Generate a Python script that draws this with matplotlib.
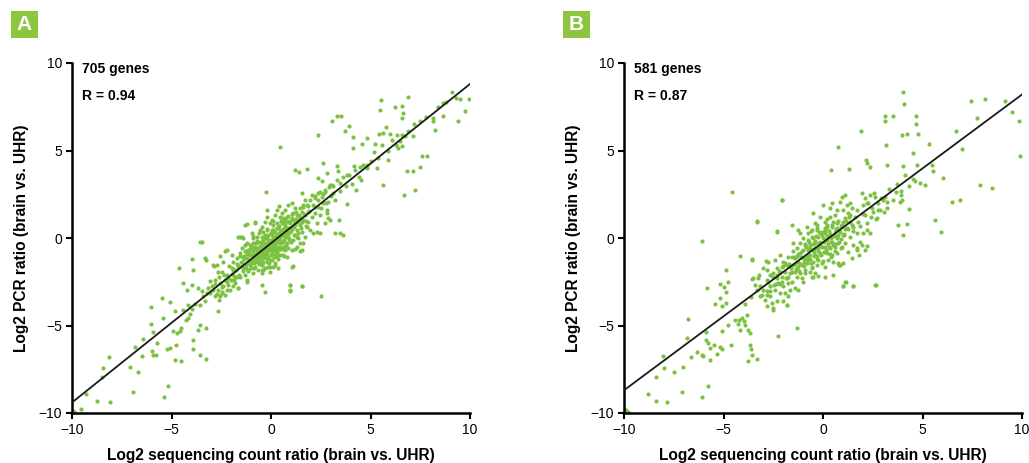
import matplotlib
matplotlib.use("Agg")
import matplotlib.pyplot as plt
from matplotlib.patches import Rectangle

plt.rcParams['font.family'] = ['Liberation Sans', 'DejaVu Sans']

# ---------------- data ----------------
a_x = [9.08, 9.50, 9.95, 8.66, 9.75, 9.42, 8.66, 8.16, 8.16, 8.24, 6.90, 5.53, 6.23, 6.60, 6.65, 6.57,
       5.48, 5.78, 3.33, 3.50, 3.08, 3.92, 3.72, 2.38, 4.10, 4.14, 4.59, 4.84, 5.23, 5.43, 5.61, 5.98,
       6.32, 6.48, 6.40, 6.57, 6.73, 7.15, 7.60, 7.82, 7.15, 6.82, 7.48, 7.23, 6.68, 5.65, 5.90, 5.31,
       4.81, 4.47, 4.17, 4.51, 4.29, 3.80, 3.64, 3.22, 3.43, 2.96, 2.80, 2.60, 2.38, 3.30, 3.38, 2.80,
       0.45, 1.21, 1.79, 1.41, 2.55, 3.05, 3.80, 3.47,
       -9.90, -9.55, -8.76, -8.09, -9.31, -8.51, -8.46, -8.14, -6.92, -7.09, -6.67, -6.50, -6.82, -6.42,
       -5.95, -6.03, -5.99, -5.95, -5.75, -5.80, -5.39, -5.19, -5.24, -5.08, -4.79, -4.84, -4.54, -4.74,
       -4.91, -4.52, -4.57, -3.90, -3.90, -3.65, -3.57, -3.27, -3.57, -3.27, -5.41, -5.08, -5.46, -6.03,
       -4.82, -4.44, -4.29, -4.15, -4.07, -3.99, -4.61, -4.44, -3.99, -3.57, -3.28, -3.90, -3.99, -3.65,
       -3.48, -4.24, -4.15, -3.82, -3.57, -3.32, -3.23, -2.65, -2.60, -2.90, -2.56, -2.48, -3.07, -2.85,
       -2.56, -2.23, -1.64, -1.22, -0.80, -1.47, -0.27, -0.22, 0.42,
       -0.30, -0.47, -1.22, -1.64, 0.95, 0.95, 1.54, 2.50, 1.12, 0.20, 1.54, 2.29, 3.47,
       -3.49, -3.32, -3.15, -3.40, -3.07, -2.90, -2.73, -2.65, -2.82, -2.98, -2.65, -2.57, -2.82,
       -2.31, -2.40, -2.48, -2.23, -2.31, -2.15, -2.40, -2.15, -2.23, -2.06, -2.48, -2.31,
       -1.98, -1.89, -1.73, -1.98, -1.81, -1.64, -1.89, -1.73, -1.98, -1.81, -1.64, -1.89, -1.56,
       -1.31, -1.39, -1.23, -1.48, -1.31, -1.14, -1.39, -1.23, -1.06, -1.48, -1.23, -1.39, -1.14, -1.31,
       -1.23, -1.06, -1.56, -1.06,
       -0.97, -0.81, -0.89, -0.72, -0.64, -0.89, -0.97, -0.81, -0.64, -0.89, -0.72, -0.56, -0.97, -0.81,
       -0.64, -0.89, -0.72, -0.97, -0.56, -0.81, -0.64, -0.89, -0.72, -0.56, -0.47,
       -0.47, -0.30, -0.39, -0.22, -0.14, -0.47, -0.30, -0.14, -0.39, -0.22, -0.47, -0.30, -0.14, -0.39,
       -0.22, -0.05, -0.47, -0.30, -0.14, -0.39, -0.22, -0.05, -0.47, -0.30, -0.14, -0.39, -0.22, -0.05,
       -0.05,
       0.03, 0.20, 0.11, 0.28, 0.03, 0.20, 0.37, 0.11, 0.28, 0.45, 0.03, 0.20, 0.37, 0.11, 0.28, 0.45,
       0.03, 0.20, 0.37, 0.11, 0.28, 0.03, 0.45, 0.20, 0.37, 0.28, 0.45, 0.11,
       0.53, 0.70, 0.62, 0.78, 0.53, 0.70, 0.87, 0.62, 0.78, 0.95, 0.53, 0.70, 0.87, 0.62, 0.78, 0.95,
       0.53, 0.70, 0.87, 0.62, 0.78, 1.04, 0.87,
       1.04, 1.20, 1.12, 1.29, 1.04, 1.37, 1.20, 1.45, 1.12, 1.29, 1.45, 1.20, 1.37, 1.12, 1.45, 1.29,
       1.45, 1.04, 0.95, 0.95, 1.54,
       1.54, 1.71, 1.62, 1.79, 1.54, 1.87, 1.71, 1.62, 1.87, 1.79, 1.54, 1.71, 1.96, 1.62,
       2.04, 2.21, 2.38, 2.54, 2.71, 2.12, 2.38, 2.63, 2.88, 2.21, 2.46, 2.80, 2.29, 2.71, 2.12, 2.88,
       2.46,
       -1.45, -1.35, -1.25, -1.20, -1.10, -1.05, -1.00, -0.95, -0.90, -0.85, -0.80, -0.75, -0.70, -0.65,
       -0.60, -0.55, -0.50, -0.45, -0.42, -0.38, -0.35, -0.30, -0.27, -0.25, -0.20, -0.18, -0.15, -0.10,
       -0.08, -0.05, 0.00, 0.02, 0.05, 0.08, 0.10, 0.13, 0.15, 0.18, 0.22, 0.25, 0.28, 0.30, 0.33, 0.36,
       0.40, 0.42, 0.45, 0.48, 0.50, 0.55, 0.58, 0.60, 0.65, 0.68, 0.72, 0.75, 0.78, 0.82, 0.85, 0.90,
       0.95, 1.00, 1.05, 1.10, 1.15, 1.20, 1.25, 1.30, 1.35, 1.40, 1.50, -1.55, -1.60, -1.70, -1.80,
       -1.90, -2.00, -2.10, -2.20, -2.35, -2.45, -2.60, -2.70, -2.80, -1.30, -0.90, -0.60, -0.20, 0.10,
       -0.45, -0.05, 0.35, 0.65, 1.20, 1.60, 1.75, 1.90, 2.05, 2.20, 2.35, 2.50, 2.60, 2.75, 2.90, 3.00,
       3.10, 3.20, 3.30, 3.45, 3.60, 3.75, 3.90, 4.05, 4.20, 4.40, 4.60, 4.80, 5.00, 5.20, 5.40, 5.60,
       5.90, 6.10, 6.30, 6.60, 6.90, 7.20, 7.50, 7.80, 8.40, 8.80, 9.30, -9.92, -9.96,
       1.96, 2.21, 2.46, 2.71, 2.96, 3.13]
a_y = [8.32, 7.96, 7.96, 7.71, 7.24, 6.70, 6.95, 6.86, 6.67, 6.15, 8.06, 7.87, 7.49, 7.52, 7.14, 6.86,
       7.30, 6.32, 7.00, 7.00, 6.67, 6.38, 6.10, 5.90, 5.75, 5.14, 5.39, 5.71, 5.39, 5.96, 6.00, 5.96,
       5.90, 5.52, 5.14, 5.24, 5.81, 5.81, 4.67, 4.67, 3.85, 3.85, 4.04, 2.72, 2.48, 3.01, 4.44, 4.00,
       4.19, 4.06, 4.10, 3.33, 2.76, 1.96, 0.19, 0.29, 1.05, 1.05, 1.43, 4.29, 3.43, 4.10, 3.81, 3.71,
       5.20, 3.90, 3.96, 3.77, 3.24, 3.01, 3.58, 3.14,
       -9.94, -9.77, -9.30, -9.39, -8.91, -7.96, -7.43, -6.80, -8.82, -7.39, -7.68, -6.76, -6.25, -5.75,
       -5.37, -4.90, -6.48, -6.67, -6.00, -6.67, -9.09, -8.48, -6.34, -6.29, -6.13, -6.95, -7.05, -5.43,
       -5.33, -5.14, -5.30, -5.81, -6.34, -5.24, -4.95, -5.14, -6.67, -6.90, -4.57, -3.68, -3.43, -3.94,
       -4.19, -4.10, -4.67, -4.57, -4.34, -4.06, -1.71, -2.57, -1.18, -0.25, -1.24, -1.81, -2.67, -2.86,
       -3.05, -2.95, -3.81, -3.75, -3.81, -3.62, -3.14, -4.19, -3.52, -2.95, -3.33, -3.14, -2.48, -1.62,
       -1.01, -0.67, 0.06, 0.82, 0.90, 0.06, 2.63, 1.58, 1.81,
       -3.10, -2.67, -2.53, -2.86, -2.67, -3.01, -2.76, -3.33, -1.62, -1.52, -0.67, 0.34, 0.29,
       -0.21, -1.16, -2.87, -3.34, -3.15, -1.54, -1.54, -1.92, -2.39, -2.77, -2.96, -2.58, -3.34,
       -0.77, -1.35, -1.92, -2.11, -2.39, -2.30, -2.77, -2.68, -2.96, -2.96, -3.06, -3.25,
       -0.97, -1.35, -1.16, -1.73, -1.82, -1.54, -2.11, -2.20, -2.39, -2.58, -2.87, -2.77, 0.08,
       0.74, -0.02, -0.30, -0.59, -0.77, -0.68, -1.06, -1.16, -0.97, -1.35, -1.44, -1.73, -1.82, -2.11,
       -2.39, -1.54, -0.87, -0.40,
       0.27, 0.84, -0.02, 0.08, -0.21, -0.30, -0.59, -0.49, -0.59, -0.77, -0.87, -0.77, -0.97, -1.06,
       -1.06, -1.25, -1.35, -1.44, -1.25, -1.63, -1.82, -2.01, -0.21, 0.46, -2.01,
       0.65, 0.94, 0.36, 0.46, 0.17, 0.08, -0.02, -0.11, -0.21, -0.30, -0.40, -0.49, -0.49, -0.68,
       -0.77, -0.68, -0.87, -0.97, -1.06, -1.16, -1.35, -1.25, -1.54, -1.73, -1.63, -1.82, 1.22, 0.84,
       -1.92,
       1.03, 1.32, 0.74, 0.84, 0.46, 0.36, 0.55, 0.08, 0.08, 0.17, -0.11, -0.21, -0.11, -0.40, -0.49, -0.30,
       -0.59, -0.77, -0.68, -0.97, -1.06, -1.25, -0.97, -1.44, -1.73, 1.60, 1.22, -1.63,
       1.41, 1.60, 1.13, 1.22, 0.84, 0.74, 0.94, 0.46, 0.36, 0.55, 0.17, 0.08, 0.08, -0.21, -0.30, -0.11,
       -0.49, -0.68, -0.59, -0.97, -1.06, -0.68, 1.89,
       1.98, 1.70, 1.41, 1.32, 1.13, 1.03, 0.84, 1.22, 0.65, 0.46, 0.74, 0.17, -0.02, -0.11, -0.30, -0.49,
       -0.77, -1.63, -2.68, -2.96, -2.77,
       2.55, 2.17, 1.79, 1.89, 1.51, 1.51, 1.32, 1.03, 0.94, 0.65, 0.36, 0.08, 0.46, -0.30,
       2.46, 2.27, 2.55, 2.36, 2.64, 1.89, 1.79, 1.98, 2.08, 1.41, 1.32, 1.60, 0.84, 0.84, 0.27, 1.13,
       0.27,
       -1.60, -1.20, -1.70, -0.90, -1.30, -0.60, -1.70, -1.20, -0.50, -1.45, -0.90, -0.30, -1.10, -0.75,
       -1.50, -0.45, -1.05, -0.65, -0.10, -1.35, -0.85, -0.35, -1.15, -0.60, 0.05, -0.90, -0.40, -1.40,
       -0.70, -0.20, -0.95, -0.45, 0.20, -0.70, -0.15, -1.10, 0.35, -0.55, 0.00, -0.30, 0.55, -0.85, -0.10, 0.25,
       -0.50, 0.70, 0.00, -0.25, 0.45, -0.65, 0.15, 0.85, -0.10, 0.40, 1.00, -0.40, 0.60, 0.10, 1.25, 0.30,
       0.85, -0.25, 0.50, 1.05, 0.20, 0.75, 1.50, 0.05, 0.90, 1.30, 0.55, -1.05, -2.10, -1.50, -2.20,
       -1.80, -2.40, -1.60, -2.50, -2.10, -2.80, -2.20, -3.20, -2.60, -0.40, 0.10, 0.30, 0.50, 0.95,
       -1.80, -1.65, -1.20, -1.00, -0.60, 1.90, 1.00, 1.55, 1.20, 1.80, 2.20, 1.70, 2.50, 2.00, 2.90, 2.40,
       3.00, 2.20, 3.30, 2.70, 3.50, 3.00, 3.60, 3.10, 3.90, 3.50, 4.20, 4.00, 4.40, 4.90, 4.60, 5.30,
       5.00, 5.60, 5.30, 5.90, 6.10, 6.50, 6.70, 6.90, 7.50, 7.80, 8.00, -9.97, -9.90,
       2.19, 2.38, 2.61, 2.76, 3.05, 2.57]

a_core_x = [-1.95, -1.85, -1.75, -1.65, -1.58, -1.52, -1.42, -1.38, -1.28, -1.18, -1.12, -1.02, -0.98,
            -0.92, -0.87, -0.78, -0.73, -0.68, -0.62, -0.57, -0.52, -0.48, -0.43, -0.37, -0.33, -0.28,
            -0.23, -0.17, -0.12, -0.07, -0.02, 0.04, 0.07, 0.12, 0.17, 0.23, 0.27, 0.32, 0.38, 0.43,
            0.47, 0.52, 0.57, 0.63, 0.67, 0.73, 0.77, 0.83, 0.88, 0.93, 0.98, 1.08, 1.18, 1.28, 1.38,
            1.48, 1.58, 1.68, 1.78, 1.88]
a_core_y = [-2.05, -2.40, -1.85, -1.60, -2.20, -1.35, -1.90, -1.05, -1.55, -1.90, -0.80, -1.30, -0.45,
            -0.95, -1.70, -0.60, -1.25, -0.15, -0.90, -1.30, -0.20, -0.75, -1.55, -0.40, -0.95, 0.15,
            -0.65, -1.20, -0.10, -0.55, 0.30, -0.85, -0.30, 0.45, -0.40, 0.10, -0.95, 0.60, 0.20, -0.60,
            0.35, 1.00, -0.20, 0.55, -0.50, 0.25, 1.15, 0.60, -0.05, 0.95, 0.40, 1.35, 0.65, 1.10, 0.30,
            1.70, 0.90, 1.40, 0.70, 1.85]

b_x = [4.00, 4.07, 7.42, 8.14, 9.15, 9.48, 9.85, 9.90, 7.76, 6.67, 7.00, 7.89, 8.51, 6.47, 6.88, 6.05,
       5.49, 5.54, 5.34, 4.54, 4.67, 4.67, 4.76, 4.20, 3.99, 3.53, 3.12, 3.12, 3.17, 3.20, 1.89, 0.74,
       0.40, 1.32, 2.14, 2.19, 2.36, 4.04, 4.62, 4.87, 5.13, 3.65, 3.94, 3.99, 3.89, 4.34, 4.20, 3.75,
       4.00, 5.63, 5.91, 3.20, 2.66, 2.23, 2.19, 1.69, 1.83, 1.52, 0.99, 1.15, 2.66, 0.52, 0.10, -0.23,
       0.82, 0.90,
       -9.90, -8.81, -8.39, -7.86, -8.39, -8.02, -7.97, -7.49, -7.10, -7.02, -6.80, -6.82, -6.65, -6.35,
       -6.10, -6.10, -6.01, -6.10, -5.76, -5.85, -5.88, -5.88, -5.76, -5.68, -5.68, -5.46, -5.34, -5.18,
       -5.09, -5.43, -5.18, -5.09, -4.87, -5.18, -4.96, -4.87, -4.76, -4.87, -5.06, -4.76, -4.59, -4.62,
       -4.42, -4.25, -4.17, -4.20, -4.09, -3.97, -3.92, -3.84, -3.75, -3.67, -3.67, -3.62, -3.58, -3.79,
       -3.30, -4.17, -3.33, -3.58, -3.92, -3.64, -3.58, -3.22, -2.86, -2.33, -2.08, -2.24, -1.32, -1.83,
       -2.50, -2.83,
       -2.08, -3.33, -2.33, -3.59,
       -3.50, -3.25, -3.42, -3.17, -3.33, -3.00, -3.08, -2.83, -2.92, -2.67, -2.83, -3.00, -2.75, -2.83,
       -2.67, -2.75, -2.67, -3.17,
       -2.41, -2.16, -2.00, -2.33, -2.08, -1.83, -2.50, -2.16, -1.91, -2.33, -2.08, -1.83, -2.25, -2.00,
       -1.74, -2.41, -2.16, -1.91, -1.66, -2.33, -2.00, -1.74, -1.83, -2.58, -2.50, -1.66, -1.74, -1.58,
       -1.49, -1.32, -1.16, -1.58, -1.41, -1.24, -0.99, -1.49, -1.24, -1.07, -1.41, -1.16, -0.91, -1.32,
       -1.07, -1.58, -0.99, -1.24, -1.41, -1.16, -0.99, -0.91, -0.82, -1.16, -1.49, -1.24,
       -0.74, -0.57, -0.40, -0.74, -0.49, -0.24, -0.66, -0.40, -0.15, -0.74, -0.49, -0.24, -0.66, -0.40,
       -0.15, -0.74, -0.49, -0.24, -0.57, -0.32, -0.07, -0.66, -0.40, -0.57, -0.32, -0.07, -0.49, -0.15,
       -0.32,
       0.10, 0.35, 0.60, 0.18, 0.43, 0.69, 0.10, 0.35, 0.60, 0.18, 0.43, 0.69, 0.10, 0.35, 0.60, 0.77,
       0.18, 0.43, 0.69, 0.27, 0.52, 0.77, 0.10, 0.35, 0.02, 0.43, 0.69,
       0.94, 1.10, 0.85, 1.19, 1.02, 1.27, 1.44, 1.10, 1.36, 1.61, 0.94, 1.19, 1.52, 1.77, 1.02, 1.36,
       1.69, 1.10, 1.52, 1.86, 1.27, 1.69, 1.02, 1.44, 0.85, 1.10, 1.52, 1.02, 1.36,
       1.94, 2.11, 2.36, 2.61, 2.03, 2.28, 2.44, 2.78, 3.03, 2.11, 2.53, 2.86, 3.20, 2.19, 2.69, 2.03,
       1.94, 2.36, 2.11, 2.61, 3.11,
       -1.40, -1.30, -1.20, -1.10, -1.00, -0.95, -0.90, -0.85, -0.80, -0.75, -0.70, -0.65, -0.60, -0.55,
       -0.50, -0.45, -0.40, -0.35, -0.30, -0.25, -0.20, -0.15, -0.10, -0.05, 0.00, 0.05, 0.10, 0.15,
       0.20, 0.25, 0.30, 0.35, 0.40, 0.45, 0.50, 0.55, 0.60, 0.65, 0.70, 0.75, 0.80, 0.85, 0.90, 0.95,
       1.00, 1.05, 1.10, -1.60, -1.75, -1.90, -2.05, -2.20, -2.35, -2.50, -2.65, -2.80, -0.60, -0.30,
       0.20, -0.90, -0.50, 0.00, 0.40, 1.30, 1.50, 1.70, 1.85, 2.00, 2.20, 2.40, 2.55, 2.75, 2.90, 3.05,
       3.30, 3.50, 3.70, 3.90, 4.10, 4.30, 4.50, 4.70, -9.80, -9.95]
b_y = [8.32, 7.68, 7.81, 7.94, 7.81, 7.22, 6.67, 4.67, 6.86, 6.13, 5.09, 3.01, 2.84, 2.06, 2.15, 3.43,
       4.19, 3.85, 5.39, 4.86, 6.99, 6.51, 5.96, 5.96, 5.87, 6.99, 6.95, 6.67, 5.33, 4.19, 6.10, 5.18,
       3.90, 3.96, 4.48, 4.29, 4.04, 4.13, 3.28, 3.14, 3.05, 2.61, 2.48, 2.19, 2.04, 1.68, 0.82, 0.76,
       0.19, 1.05, 0.34, 2.06, 1.09, 0.48, -0.48, -0.57, -0.95, -2.76, -2.76, -2.53, -2.67, -2.10, -2.23, -2.15,
       -1.52, -0.57,
       -9.85, -8.91, -9.30, -9.39, -7.96, -6.76, -7.43, -7.68, -8.82, -7.37, -4.63, -5.71, -6.80, -6.51,
       -0.19, -6.67, -6.72, -9.09, -8.48, -2.86, -5.39, -5.81, -6.00, -6.29, -6.95, -6.10, -6.61, -6.25,
       -6.34, -3.77, -3.43, -3.90, -1.81, -2.61, -2.80, -3.10, -2.53, -3.71, -5.33, -4.95, 2.61, -6.13,
       -4.67, -4.90, -5.24, -4.67, -4.57, -4.76, -4.95, -4.38, -5.24, -5.43, -6.10, -6.34, -6.67, -7.05,
       -6.90, -1.01, 0.99, -1.20, -3.77, -3.39, -2.34, -2.10, -1.30, 0.38, 2.15, -5.62, -5.14, -3.81,
       -4.10, -3.05,
       2.17, 0.94, 0.33, -1.25,
       -2.30, -2.30, -2.68, -2.77, -2.96, -2.96, -3.25, -3.25, -3.53, -3.34, -3.91, -1.73, -1.35, -1.82,
       -2.11, -2.49, -2.77, -3.34,
       -1.25, -0.97, -1.35, -1.73, -1.63, -1.54, -2.01, -1.92, -1.92, -2.30, -2.20, -2.30, -2.58, -2.77,
       -2.58, -2.96, -3.15, -3.15, -2.96, -3.62, -3.62, -3.34, -3.82, -3.72, -4.00, -2.01, -1.06, 0.74,
       -0.77, -0.59, -0.87, -1.06, -1.16, -1.35, -1.16, -1.54, -1.63, -1.54, -1.92, -2.01, -1.82, -2.20,
       -2.30, -2.49, -2.49, -2.96, -2.87, 0.27, -0.02, -0.40, 0.65, -0.30, -0.30, 0.46,
       0.27, 0.46, 0.84, -0.11, -0.02, 0.08, -0.40, -0.30, -0.21, -0.68, -0.68, -0.59, -0.97, -0.97,
       -0.87, -1.25, -1.35, -1.25, -1.63, -1.54, -1.44, -1.92, -2.01, -2.20, 0.46, 0.36, 1.41, 1.22,
       0.74,
       0.94, 1.22, 1.32, 0.65, 0.74, 0.84, 0.27, 0.17, 0.36, -0.11, -0.21, -0.02, -0.49, -0.59, -0.49, -0.30,
       -0.87, -0.97, -0.87, -1.25, -1.35, -1.44, -1.63, 1.70, 1.89, 1.98, 1.60,
       2.36, 2.46, 2.08, 1.89, 1.60, 1.41, 1.70, 1.13, 0.94, 1.22, 0.74, 0.55, 0.65, 0.94, 0.17, 0.08,
       0.27, -0.30, -0.40, -0.21, -0.78, -0.68, -1.44, -1.16, -1.54, -2.49, -2.77, -2.77, 1.98,
       2.55, 2.27, 2.46, 2.36, 1.89, 1.98, 1.70, 1.98, 2.17, 1.32, 1.51, 1.60, 1.70, 0.84, 1.13, 0.27,
       -0.40, 0.27, -0.68, -2.68, 2.36,
       -1.50, -1.00, -1.90, -1.10, -0.70, -1.60, -1.20, -0.50, -1.45, -0.95, -0.20, -1.20, -0.65, -1.70,
       -0.35, -1.05, -0.55, 0.10, -1.20, -0.75, -0.30, 0.30, -0.95, -0.50, 0.00, -0.25, 0.55, -0.70,
       0.10, -0.35, 0.40, -0.90, 0.00, 0.65, -0.40, 0.20, -0.75, 0.50, 0.05, 1.00, -0.20, 0.35, 0.70, -0.50,
       0.90, 0.20, 0.50, -1.70, -2.20, -1.40, -2.50, -1.90, -2.60, -2.20, -3.00, -2.40, 0.40, 0.60,
       1.10, -2.00, -2.20, -1.30, -1.10, 1.20, 0.40, 1.60, 0.70, 1.40, 2.00, 1.20, 2.60, 1.60, 2.30, 1.50,
       2.80, 2.20, 3.10, 2.70, 3.60, 3.00, 3.40, 4.20, -9.95, -9.80]

b_core_x = [-2.45, -2.30, -2.15, -2.00, -1.85, -1.70, -1.55, -1.45, -1.35, -1.25, -1.15, -1.05, -0.97,
            -0.88, -0.78, -0.72, -0.62, -0.53, -0.47, -0.38, -0.28, -0.22, -0.12, -0.03, 0.03, 0.08,
            0.13, 0.22, 0.28, 0.33, 0.42, 0.48, 0.53, 0.62, 0.68, 0.73, 0.82, 0.88, 0.97, 1.07, 1.17,
            1.27, 1.37, 1.47]
b_core_y = [-2.70, -2.10, -2.60, -1.60, -2.30, -1.50, -1.95, -1.10, -1.75, -0.90, -1.50, -0.75, -1.35,
            -0.35, -1.10, -0.55, -1.45, 0.05, -0.80, -0.15, -1.00, 0.35, -0.45, 0.20, -0.80, 0.45,
            -0.10, 0.75, -0.50, 0.25, -0.20, 0.90, 0.10, -0.35, 0.60, 0.15, 0.45, -0.05, 0.75, 0.25,
            1.00, 0.50, 1.30, 0.75]

a_fit_x = [-10, 10]
a_fit_y = [-9.4, 8.8]
b_fit_x = [-10, 10]
b_fit_y = [-8.7, 8.2]

panels = [
    dict(label="A", x=a_x + a_core_x, y=a_y + a_core_y, fx=a_fit_x, fy=a_fit_y,
         n="705 genes", r="R = 0.94",
         rect=[72 / 1029, 1 - 413 / 463, 398 / 1029, 350 / 463], box=11),
    dict(label="B", x=b_x + b_core_x, y=b_y + b_core_y, fx=b_fit_x, fy=b_fit_y,
         n="581 genes", r="R = 0.87",
         rect=[624 / 1029, 1 - 413 / 463, 398 / 1029, 350 / 463], box=563),
]

ticks = [-10, -5, 0, 5, 10]
tick_labels = ["\u221210", "\u22125", "0", "5", "10"]
GREEN = "#7dc142"
BOXGREEN = "#8cc63f"

fig = plt.figure(figsize=(10.29, 4.63), dpi=100)

for p in panels:
    ax = fig.add_axes(p["rect"])
    ax.scatter(p["x"], p["y"], s=9, color=GREEN, marker="o", linewidths=0, zorder=2)
    ax.plot(p["fx"], p["fy"], color="#1a1a1a", lw=1.3, zorder=3)
    ax.set_xlim(-10, 10)
    ax.set_ylim(-10, 10)
    ax.set_xticks(ticks)
    ax.set_xticklabels(tick_labels)
    ax.set_yticks(ticks)
    ax.set_yticklabels(tick_labels)
    for s in ["top", "right"]:
        ax.spines[s].set_visible(False)
    for s in ["left", "bottom"]:
        ax.spines[s].set_linewidth(1.8)
    ax.tick_params(direction="out", length=4, width=1.5, labelsize=10, pad=3, color="black")
    ax.set_xlabel("Log2 sequencing count ratio (brain vs. UHR)", fontsize=11.2,
                  fontweight="bold", labelpad=8)
    ax.set_ylabel("Log2 PCR ratio (brain vs. UHR)", fontsize=11.2, fontweight="bold",
                  labelpad=7)
    ax.text(0.025, 0.982, p["n"], transform=ax.transAxes, fontsize=10, fontweight="bold",
            va="center", ha="left")
    ax.text(0.025, 0.905, p["r"], transform=ax.transAxes, fontsize=10, fontweight="bold",
            va="center", ha="left")
    # panel label box
    x0 = p["box"] / 1029
    y0 = 1 - 38 / 463
    fig.patches.append(Rectangle((x0, y0), 27 / 1029, 27 / 463, transform=fig.transFigure,
                                 facecolor=BOXGREEN, edgecolor="none"))
    fig.text(x0 + 13.5 / 1029, y0 + 13.5 / 463, p["label"], color="white", fontsize=15,
             fontweight="bold", ha="center", va="center")

fig.savefig("out.png", dpi=100)
